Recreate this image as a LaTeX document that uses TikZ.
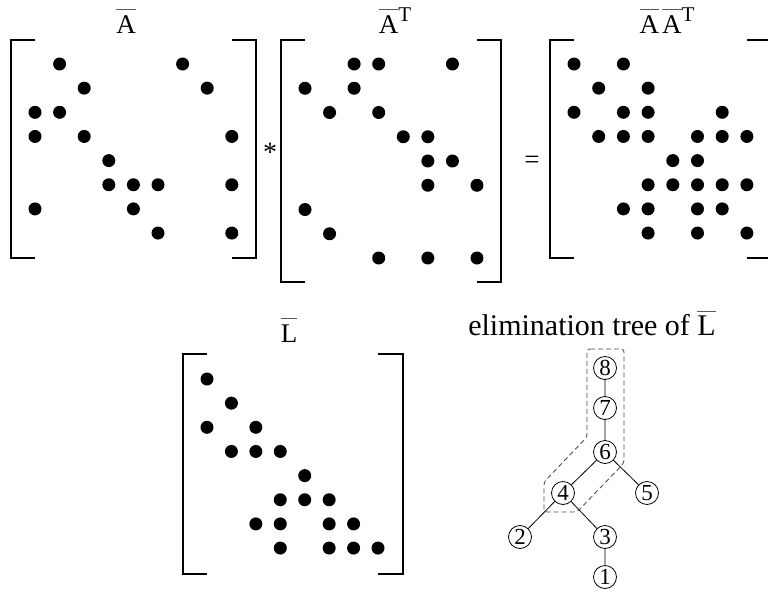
\documentclass[tikz,border=0pt]{standalone}
\usepackage{fontspec}
\setmainfont{Liberation Serif}

% letter with a thin bar above it
\newcommand{\barred}[1]{\sbox0{#1}\rlap{\color{black!65}\rule[23pt]{\wd0}{0.9pt}}#1}
\newcommand{\supT}{\raisebox{12pt}{\fontsize{21}{21}\selectfont T}}

\begin{document}
\begin{tikzpicture}[x=1pt, y=-1pt,
    entry/.style={circle, fill=black, inner sep=0pt, minimum size=13pt},
    bracket/.style={line width=2pt},
    mlabel/.style={anchor=base, inner sep=0pt, font=\fontsize{27}{30}\selectfont},
    vertex/.style={draw, circle, inner sep=0pt, minimum size=23pt, line width=0.8pt, font=\fontsize{23}{23}\selectfont},
    treeline/.style={line width=0.8pt}]
    \useasboundingbox (0,0) rectangle (768,592);

    % matrix A
    \node[mlabel] (labA) at (126,33) {\barred{A}};
    \draw[bracket] (35,40) -- (11,40) -- (11,258) -- (35,258);
    \draw[bracket] (232,40) -- (256,40) -- (256,258) -- (232,258);
    \foreach \r/\cols in {1/{2,7}, 2/{3,8}, 3/{1,2}, 4/{1,3,9}, 5/{4}, 6/{4,5,6,9}, 7/{1,5}, 8/{6,9}}
        \foreach \c in \cols
            \node[entry] (A-\r-\c) at ({35+24.6*(\c-1)}, {64+24.15*(\r-1)}) {};

    \node[mlabel, font=\fontsize{28}{30}\selectfont] (times) at (270,161) {*};

    % matrix A^T
    \node[mlabel] (labAT) at (395,33) {\barred{A}\supT};
    \draw[bracket] (305,40) -- (281,40) -- (281,282) -- (305,282);
    \draw[bracket] (477,40) -- (501,40) -- (501,282) -- (477,282);
    \foreach \r/\cols in {1/{3,4,7}, 2/{1,3}, 3/{2,4}, 4/{5,6}, 5/{6,7}, 6/{6,8}, 7/{1}, 8/{2}, 9/{4,6,8}}
        \foreach \c in \cols
            \node[entry] (AT-\r-\c) at ({305+24.57*(\c-1)}, {64+24.25*(\r-1)}) {};

    \node[mlabel, font=\fontsize{27}{30}\selectfont] (equals) at (532,168) {=};

    % product A A^T
    \node[mlabel] (labAAT) at (667,33) {\barred{A}\hspace{3pt}\barred{A}\supT};
    \draw[bracket] (574,40) -- (550,40) -- (550,258) -- (574,258);
    \draw[bracket] (747,40) -- (772,40) -- (772,258) -- (747,258);
    \foreach \r/\cols in {1/{1,3}, 2/{2,4}, 3/{1,3,4,7}, 4/{2,3,4,6,7,8}, 5/{5,6}, 6/{4,5,6,7,8}, 7/{3,4,6,7}, 8/{4,6,8}}
        \foreach \c in \cols
            \node[entry] (AAT-\r-\c) at ({574+24.7*(\c-1)}, {64+24.15*(\r-1)}) {};

    % factor L
    \node[mlabel] (labL) at (289,342) {\barred{L}};
    \draw[bracket] (207,354) -- (183,354) -- (183,574) -- (207,574);
    \draw[bracket] (378,354) -- (403,354) -- (403,574) -- (378,574);
    \foreach \r/\cols in {1/{1}, 2/{2}, 3/{1,3}, 4/{2,3,4}, 5/{5}, 6/{4,5,6}, 7/{3,4,6,7}, 8/{4,6,7,8}}
        \foreach \c in \cols
            \node[entry] (L-\r-\c) at ({207+24.43*(\c-1)}, {379+24.15*(\r-1)}) {};

    % elimination tree
    \node[anchor=base, inner sep=0pt, font=\fontsize{30}{34}\selectfont] (labtree) at (592,335) {elimination tree of \barred{L}};
    \node[vertex] (v8) at (605,368) {8};
    \node[vertex] (v7) at (605,408) {7};
    \node[vertex] (v6) at (605,452) {6};
    \node[vertex] (v4) at (563,493) {4};
    \node[vertex] (v5) at (647,493) {5};
    \node[vertex] (v2) at (520,537) {2};
    \node[vertex] (v3) at (605,537) {3};
    \node[vertex] (v1) at (605,577) {1};
    \draw[treeline] (v8) -- (v7) (v7) -- (v6) (v6) -- (v4) (v6) -- (v5)
        (v4) -- (v2) (v4) -- (v3) (v3) -- (v1);
    \draw[black!70, dash pattern=on 5pt off 3pt, line width=0.8pt, rounded corners=3pt]
        (587,349) -- (624,349) -- (624,463) -- (577,512) -- (544,512) -- (544,482) -- (587,437) -- cycle;
\end{tikzpicture}
\end{document}
